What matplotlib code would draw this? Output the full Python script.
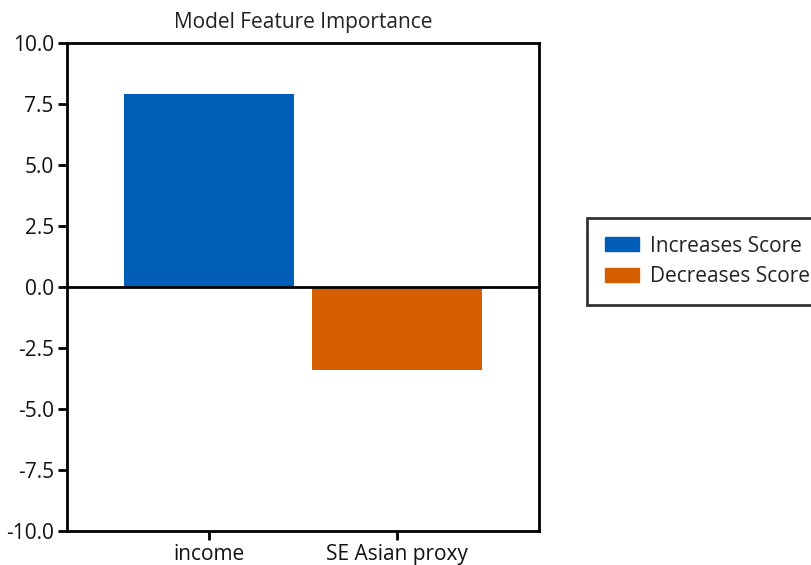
import matplotlib
matplotlib.use("Agg")
import matplotlib.pyplot as plt
import matplotlib.patches as mpatches

features = ["income", "SE Asian proxy"]
values = [7.9, -3.4]
colors = ["#015EB8", "#D55E00"]
legend_labels = ["Increases Score", "Decreases Score"]
yticks = [10.0, 7.5, 5.0, 2.5, 0.0, -2.5, -5.0, -7.5, -10.0]

plt.rcParams['font.family'] = ['Open Sans', 'DejaVu Sans']

fig = plt.figure(figsize=(8.11, 5.65), dpi=100)
ax = fig.add_axes([67/811, 1-531/565, (539-67)/811, (531-43)/565])

x = list(range(len(features)))
ax.bar(x, values, width=0.9, color=colors)
ax.axhline(0, color="black", linewidth=2)

ax.set_xlim(-0.755, 1.755)
ax.set_ylim(-10, 10)
ax.set_yticks(yticks)
ax.set_yticklabels([f"{v:.1f}" for v in yticks])
ax.set_xticks(x)
ax.set_xticklabels(features)
ax.tick_params(axis="both", labelsize=15, length=6.5, width=2, colors="black", pad=3)
for t in ax.get_xticklabels() + ax.get_yticklabels():
    t.set_color("#111111")
for s in ax.spines.values():
    s.set_linewidth(2)
    s.set_color("black")

ax.set_title("Model Feature Importance", fontsize=15, color="#222222", pad=11)

handles = [mpatches.Patch(color=c, label=l) for c, l in zip(colors, legend_labels)]
leg = fig.legend(handles=handles, loc="upper left",
                 bbox_to_anchor=(587/811, 1-218/565), bbox_transform=fig.transFigure,
                 borderaxespad=0, fontsize=15, fancybox=False, frameon=True,
                 handlelength=1.65, handleheight=0.65, borderpad=0.85, labelspacing=0.45,
                 handletextpad=0.5)
leg.get_frame().set_edgecolor("black")
leg.get_frame().set_linewidth(2)
for t in leg.get_texts():
    t.set_color("#222222")

fig.savefig("out.png", dpi=100)
